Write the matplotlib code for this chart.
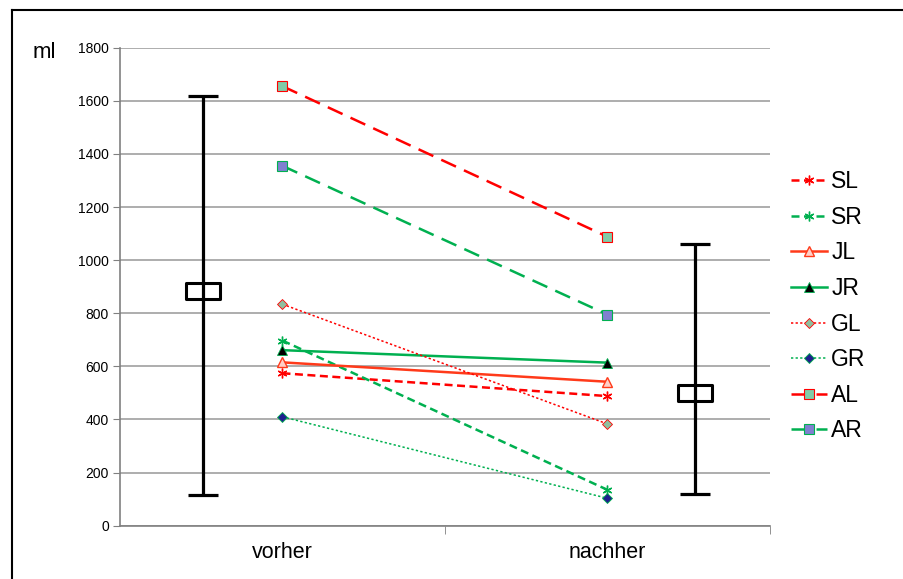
import matplotlib
matplotlib.use('Agg')
import matplotlib.pyplot as plt
from matplotlib.path import Path
from matplotlib.lines import Line2D

plt.rcParams['font.family'] = ['Liberation Sans', 'DejaVu Sans']

categories = ['vorher', 'nachher']
series = ['SL', 'SR', 'JL', 'JR', 'GL', 'GR', 'AL', 'AR']
vorher = [574, 697, 615, 661, 834, 410, 1655, 1355]
nachher = [488, 135, 542, 614, 383, 103, 1088, 795]

# mean with range (min/max) per timepoint
summary_mean = [885, 500]
summary_low = [115, 119]
summary_high = [1617, 1060]

RED = '#FF0000'
GREEN = '#00B050'
ORANGE = '#FF3A1A'

styles = {
    'SL': dict(color=RED, ls=(0, (3.2, 1.8)), lw=1.8, marker=(6, 2, 0), ms=7, mfc=RED, mec=RED, mew=1.0),
    'SR': dict(color=GREEN, ls=(0, (3.2, 1.8)), lw=1.8, marker=(6, 2, 0), ms=7, mfc=GREEN, mec=GREEN, mew=1.0),
    'JL': dict(color=ORANGE, ls='-', lw=1.8, marker='^', ms=7, mfc='#FFD0C8', mec=ORANGE, mew=1.0),
    'JR': dict(color=GREEN, ls='-', lw=1.8, marker='^', ms=7, mfc='black', mec=GREEN, mew=0.6),
    'GL': dict(color=RED, ls=(0, (1.5, 1.5)), lw=1.1, marker='D', ms=5.5, mfc='#8FBF9F', mec=RED, mew=0.6),
    'GR': dict(color=GREEN, ls=(0, (1.5, 1.5)), lw=1.1, marker='D', ms=5.5, mfc='#1F1F8F', mec=GREEN, mew=0.6),
    'AL': dict(color=RED, ls=(0, (6.5, 3.5)), lw=1.8, marker='s', ms=6.5, mfc='#80CCA8', mec=RED, mew=0.8),
    'AR': dict(color=GREEN, ls=(0, (6.5, 3.5)), lw=1.8, marker='s', ms=6.5, mfc='#8080D0', mec=GREEN, mew=0.8),
}

fig = plt.figure(figsize=(9.04, 5.79), dpi=100)
ax = fig.add_axes([0.1327, 0.0921, 0.719, 0.8255])

x = list(range(len(categories)))
handles = []
for name, v0, v1 in zip(series, vorher, nachher):
    h, = ax.plot(x, [v0, v1], label=name, zorder=3, **styles[name])
    handles.append(h)

# range bars beside each timepoint
box = Path([(-1, -0.48), (1, -0.48), (1, 0.48), (-1, 0.48), (-1, -0.48)],
           [Path.MOVETO, Path.LINETO, Path.LINETO, Path.LINETO, Path.CLOSEPOLY])
bar_x = [-0.246, 1.27]
for bx, m, lo, hi in zip(bar_x, summary_mean, summary_low, summary_high):
    ax.errorbar([bx], [m], yerr=[[m - lo], [hi - m]], fmt='none', ecolor='black',
                elinewidth=2.3, capsize=11, capthick=2.3, zorder=4)
    ax.plot([bx], [m], marker=box, ms=24, mfc='none', mec='black', mew=2.2, zorder=5)

ax.set_xlim(-0.5, 1.5)
ax.set_ylim(0, 1800)
ax.set_yticks(range(0, 1801, 200))
ax.tick_params(axis='y', labelsize=10, length=5, color='#808080', pad=3)
ax.set_xticks(x)
ax.set_xticklabels(categories, fontsize=15.5)
ax.tick_params(axis='x', length=0, pad=12)
ax.set_xticks([0.5, 1.5], minor=True)
ax.tick_params(axis='x', which='minor', length=6, color='#808080')
ax.grid(axis='y', color='#A0A0A0', lw=1.2)
ax.set_axisbelow(True)
for s in ['top', 'right']:
    ax.spines[s].set_visible(False)
for s in ['left', 'bottom']:
    ax.spines[s].set_color('#808080')
    ax.spines[s].set_linewidth(1.2)

fig.text(33 / 904, 1 - 52 / 579, 'ml', fontsize=16, va='center', ha='left')

fig.legend(handles=handles, loc='upper left', bbox_to_anchor=(782 / 904, 1 - 161 / 579),
           frameon=False, fontsize=16.5, handlelength=1.55, handletextpad=0.2,
           labelspacing=0.55, numpoints=1, borderaxespad=0)

# outer frame
fig.add_artist(Line2D([12 / 904, 12 / 904], [0, 1 - 10 / 579], color='black', lw=1.5))
fig.add_artist(Line2D([12 / 904, 1], [1 - 10 / 579, 1 - 10 / 579], color='black', lw=1.5))

plt.savefig('out.png', dpi=100)
plt.close()
